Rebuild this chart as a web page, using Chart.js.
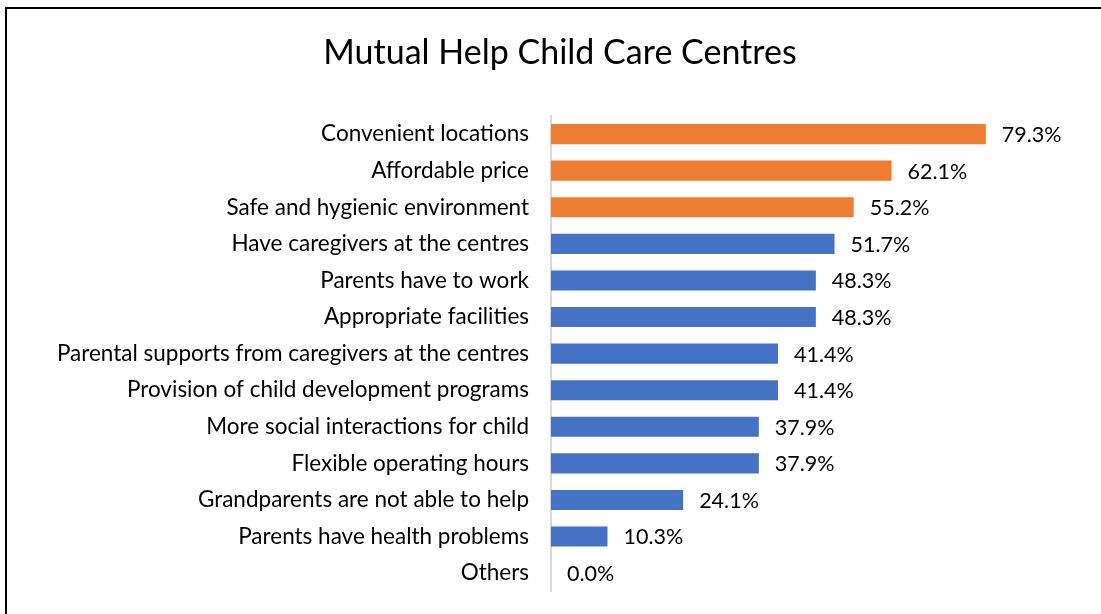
<!DOCTYPE html>
<html>
<head>
<meta charset="utf-8">
<script src="https://cdn.jsdelivr.net/npm/chart.js@4/dist/chart.umd.min.js"></script>
<style>
  html, body { margin: 0; padding: 0; background: #fff; overflow: hidden; }
  #moldura {
    position: absolute; left: 5px; top: 7px; width: 1200px; height: 700px;
    border-left: 2px solid #000; border-top: 2px solid #000;
  }
  #grafico { position: absolute; left: 0; top: 0; }
</style>
</head>
<body>
<div id="moldura"></div>
<canvas id="grafico" width="1101" height="614"></canvas>
<script>
// Dados do gráfico
const motivos = [
    "Convenient locations",
    "Affordable price",
    "Safe and hygienic environment",
    "Have caregivers at the centres",
    "Parents have to work",
    "Appropriate facilities",
    "Parental supports from caregivers at the centres",
    "Provision of child development programs",
    "More social interactions for child",
    "Flexible operating hours",
    "Grandparents are not able to help",
    "Parents have health problems",
    "Others"
];
const percentuais = [79.3, 62.1, 55.2, 51.7, 48.3, 48.3, 41.4, 41.4, 37.9, 37.9, 24.1, 10.3, 0.0];
const destaques = [true, true, true, false, false, false, false, false, false, false, false, false, false];

const laranja = "#ED7D31";
const azul = "#4472C4";
const fonte = "Lato, 'Open Sans', sans-serif";

// Rótulos de valor ao lado das barras
const rotulosValor = {
    id: "rotulosValor",
    afterDatasetsDraw(chart) {
        const ctx = chart.ctx;
        const meta = chart.getDatasetMeta(0);
        ctx.save();
        ctx.font = "21.5px " + fonte;
        ctx.fillStyle = "#000";
        ctx.textAlign = "left";
        ctx.textBaseline = "middle";
        meta.data.forEach((barra, i) => {
            ctx.fillText(percentuais[i].toFixed(1) + "%", barra.x + 16, barra.y + 1);
        });
        ctx.restore();
    }
};

new Chart(document.getElementById("grafico"), {
    type: "bar",
    data: {
        labels: motivos,
        datasets: [{
            data: percentuais,
            backgroundColor: destaques.map(d => d ? laranja : azul),
            barPercentage: 0.55,
            categoryPercentage: 1.0
        }]
    },
    options: {
        indexAxis: "y",
        responsive: false,
        animation: false,
        layout: { padding: { left: 19, right: 0, top: 0, bottom: 0 } },
        plugins: {
            legend: { display: false },
            tooltip: { enabled: false },
            title: {
                display: true,
                text: "Mutual Help Child Care Centres",
                color: "#000",
                font: { family: fonte, size: 34, weight: "normal" },
                padding: { top: 33, bottom: 42 }
            }
        },
        scales: {
            x: { display: false, min: 0, max: 100.3 },
            y: {
                afterFit(escala) { escala.width = 532; },
                grid: { display: false, drawTicks: false },
                border: { display: true, color: "#d9d9d9", width: 2 },
                ticks: {
                    color: "#000",
                    padding: 22,
                    font: { family: fonte, size: 22.5, lineHeight: 0.05 }
                }
            }
        }
    },
    plugins: [rotulosValor]
});
</script>
</body>
</html>
